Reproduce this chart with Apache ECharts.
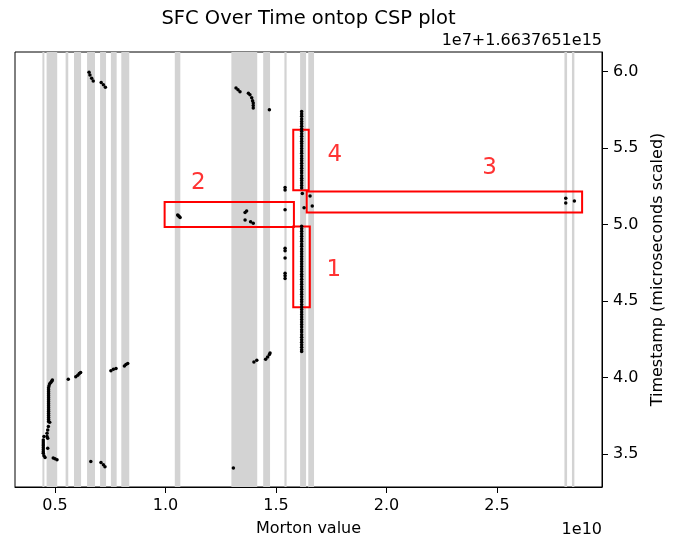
<!DOCTYPE html>
<html>
<head>
<meta charset="utf-8">
<script src="https://cdn.jsdelivr.net/npm/echarts@6/dist/echarts.min.js"></script>
<style>html,body{margin:0;padding:0;background:#fff}#c{width:674px;height:542px}</style>
</head>
<body>
<div id="c"></div>
<script>
// Morton value (x, units of 1e10) and timestamp (y, units of 1e7 + 1.6637651e15)
const xTicks = [0.5, 1.0, 1.5, 2.0, 2.5];
const yTicks = [3.5, 4.0, 4.5, 5.0, 5.5, 6.0];

// gray CSP bands [start, end] on Morton axis
const bands = [[0.443,0.452],[0.462,0.510],[0.548,0.560],[0.586,0.618],[0.645,0.681],[0.704,0.731],[0.753,0.779],[0.800,0.836],[1.042,1.067],[1.298,1.415],[1.442,1.473],[1.538,1.548],[1.609,1.636],[1.646,1.672],[2.805,2.817],[2.839,2.850]];

// red boxes [x0, x1, y0, y1] and their labels
const boxes = [[1.578,1.653,4.459,4.987],[0.996,1.581,4.984,5.147],[1.639,2.885,5.078,5.215],[1.578,1.648,5.223,5.620]];
const boxLabels = [[1.762,4.700,'1'],[1.148,5.269,'2'],[2.466,5.370,'3'],[1.766,5.453,'4']];

const topLeftPts = [[0.654,5.996],[0.658,5.978],[0.666,5.957],[0.673,5.939],[0.709,5.928],[0.719,5.913],[0.728,5.898]];
const topMidPts = [[1.319,5.892],[1.328,5.881],[1.337,5.868],[1.375,5.859],[1.382,5.848],[1.390,5.828],[1.394,5.809],[1.397,5.794],[1.397,5.778],[1.397,5.761],[1.470,5.750]];
const group2Pts = [[1.055,5.062],[1.058,5.057],[1.062,5.052],[1.066,5.045],[1.367,5.088],[1.360,5.078],[1.360,5.030],[1.385,5.017],[1.397,5.008]];
const nearColX = 1.541;
const nearColY = [5.241,5.225,5.096,4.845,4.828,4.780,4.681,4.665,4.647];
const colExtraPts = [[1.619,5.202],[1.654,5.186],[1.627,5.110],[1.664,5.121],[1.616,4.989]];
const colX = 1.616;
const colUpperY = [5.739,5.723,5.707,5.690,5.674,5.658,5.642,5.626,5.610,5.594,5.577,5.561,5.545,5.529,5.513,5.497,5.481,5.465,5.448,5.432,5.416,5.400,5.384,5.368,5.352,5.336,5.319,5.303,5.287,5.271,5.255,5.239];
const colLowerY = [4.972,4.956,4.939,4.923,4.906,4.890,4.873,4.857,4.840,4.824,4.807,4.791,4.774,4.758,4.741,4.725,4.708,4.692,4.675,4.659,4.642,4.626,4.609,4.593,4.576,4.560,4.543,4.527,4.510,4.494,4.477,4.461,4.444,4.428,4.411,4.395,4.378,4.362,4.345,4.329,4.312,4.296,4.279,4.263,4.246,4.230,4.213,4.197,4.180,4.170];
const group3Pts = [[2.811,5.172],[2.811,5.141],[2.850,5.153]];
const leftColX = 0.471;
const leftColY = [3.932,3.919,3.906,3.893,3.880,3.867,3.854,3.841,3.828,3.815,3.802,3.789,3.776,3.763,3.750,3.737,3.724,3.711];
const leftLowX = 0.447;
const leftLowY = [3.591,3.578,3.565,3.552,3.539,3.526,3.513,3.504];
const leftOtherPts = [[0.488,3.982],[0.485,3.975],[0.481,3.967],[0.476,3.958],[0.473,3.945],[0.476,3.706],[0.470,3.678],[0.467,3.656],[0.464,3.635],[0.464,3.613],[0.467,3.602],[0.450,3.613],[0.450,3.487],[0.455,3.476],[0.467,3.537],[0.492,3.472],[0.500,3.467],[0.509,3.461]];
const lowRowPts = [[0.560,3.988],[0.594,4.004],[0.603,4.014],[0.610,4.025],[0.616,4.032],[0.753,4.043],[0.764,4.053],[0.776,4.058],[0.814,4.075],[0.821,4.084],[0.829,4.090]];
const bottomPts = [[0.662,3.450],[0.708,3.444],[0.719,3.428],[0.726,3.415],[1.307,3.407]];
const lowMidPts = [[1.400,4.101],[1.413,4.112],[1.453,4.118],[1.462,4.134],[1.470,4.149],[1.473,4.160]];

const points = [].concat(
  topLeftPts, topMidPts, group2Pts,
  nearColY.map(y => [nearColX, y]),
  colExtraPts,
  colUpperY.map(y => [colX, y]),
  colLowerY.map(y => [colX, y]),
  group3Pts,
  leftColY.map(y => [leftColX, y]),
  leftLowY.map(y => [leftLowX, y]),
  leftOtherPts, lowRowPts, bottomPts, lowMidPts
);

const FONT = 'DejaVu Sans';
const chart = echarts.init(document.getElementById('c'), null, {renderer: 'canvas'});
chart.setOption({
  animation: false,
  backgroundColor: '#fff',
  grid: {left: 15, right: 72, top: 52, bottom: 53, show: true, borderColor: '#000', borderWidth: 1, backgroundColor: 'transparent'},
  xAxis: {
    type: 'value', min: 0.319, max: 2.975,
    name: 'Morton value', nameLocation: 'middle', nameGap: 34,
    nameTextStyle: {fontFamily: FONT, fontSize: 16, color: '#000'},
    splitLine: {show: false},
    axisLine: {show: true, onZero: false, lineStyle: {color: '#000', width: 1}},
    axisTick: {show: true, length: 6, customValues: xTicks, lineStyle: {color: '#000'}},
    axisLabel: {customValues: xTicks, margin: 11, fontFamily: FONT, fontSize: 16, color: '#000', formatter: v => v.toFixed(1)}
  },
  yAxis: {
    type: 'value', position: 'right', min: 3.283, max: 6.128,
    name: 'Timestamp (microseconds scaled)', nameLocation: 'middle', nameGap: 43, nameRotate: 90,
    nameTextStyle: {fontFamily: FONT, fontSize: 16, color: '#000'},
    splitLine: {show: false},
    axisLine: {show: true, onZero: false, lineStyle: {color: '#000', width: 1}},
    axisTick: {show: true, length: 6, customValues: yTicks, lineStyle: {color: '#000'}},
    axisLabel: {customValues: yTicks, margin: 11, padding: [3, 0, 0, 0], fontFamily: FONT, fontSize: 16, color: '#000', formatter: v => v.toFixed(1)}
  },
  series: [
    {
      type: 'scatter', data: [], z: 1, silent: true,
      markArea: {silent: true, itemStyle: {color: '#d3d3d3'}, data: bands.map(b => [{xAxis: b[0]}, {xAxis: b[1]}])}
    },
    {
      type: 'scatter', data: points, symbolSize: 3.5, z: 5, silent: true,
      itemStyle: {color: '#000', opacity: 1}
    },
    {
      type: 'scatter', data: [], z: 6, silent: true,
      markArea: {silent: true, itemStyle: {color: 'rgba(0,0,0,0)', borderColor: '#ff0000', borderWidth: 2},
        data: boxes.map(b => [{coord: [b[0], b[2]]}, {coord: [b[1], b[3]]}])}
    },
    {
      type: 'scatter', data: boxLabels, symbolSize: 0, z: 7, silent: true,
      label: {show: true, position: 'inside', formatter: p => p.value[2], color: '#ff0000', fontFamily: FONT, fontSize: 23}
    }
  ],
  graphic: [
    {type: 'text', x: 308.5, y: 19, style: {text: 'SFC Over Time ontop CSP plot', align: 'center', verticalAlign: 'middle', fontFamily: FONT, fontSize: 19.5, fill: '#000'}},
    {type: 'text', x: 602, y: 41, style: {text: '1e7+1.6637651e15', align: 'right', verticalAlign: 'middle', fontFamily: FONT, fontSize: 16, fill: '#000'}},
    {type: 'text', x: 602, y: 530, style: {text: '1e10', align: 'right', verticalAlign: 'middle', fontFamily: FONT, fontSize: 16, fill: '#000'}}
  ]
});
</script>
</body>
</html>
